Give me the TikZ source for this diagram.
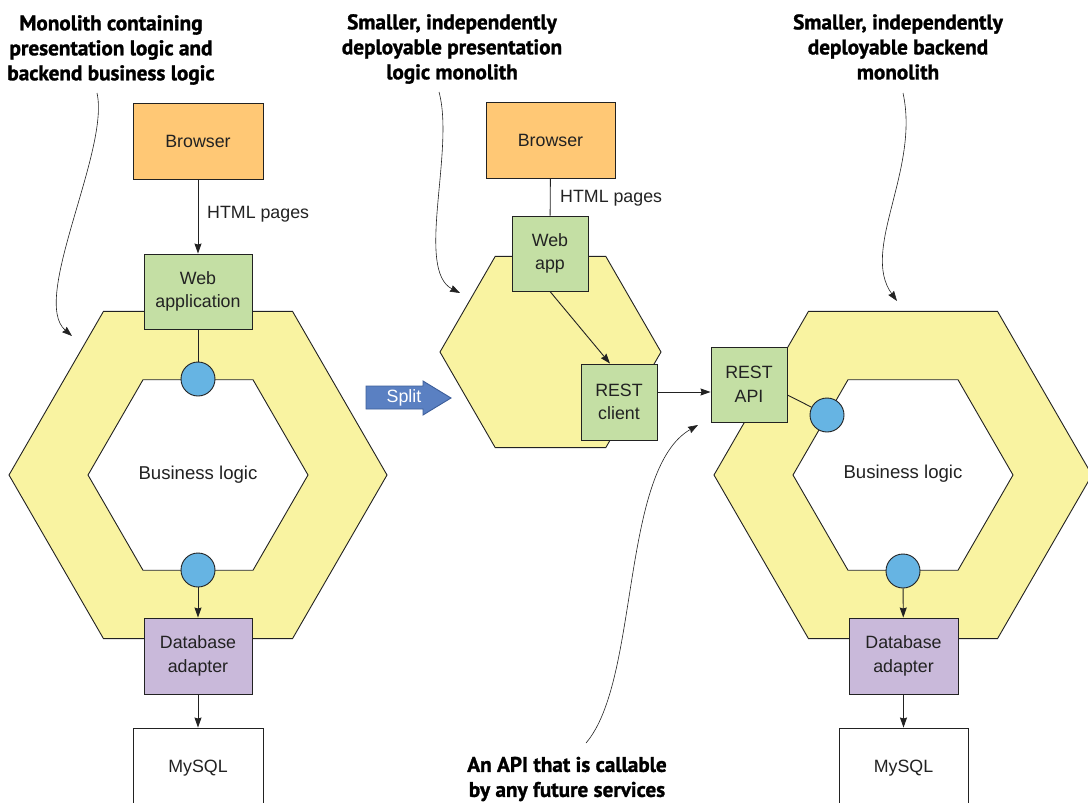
\documentclass[tikz,border=0pt]{standalone}
\usepackage{fontspec}
\setmainfont{Liberation Sans}
\newfontfamily\titlef{PT Sans}[BoldFeatures={FakeBold=1.3}]
\usetikzlibrary{arrows.meta}
\definecolor{orangeb}{HTML}{FFC875}
\definecolor{greenb}{HTML}{C4DFA4}
\definecolor{purpleb}{HTML}{C9B9DA}
\definecolor{hexyellow}{HTML}{F9F3A1}
\definecolor{portblue}{HTML}{66B4E3}
\definecolor{splitblue}{HTML}{5A80C2}
\definecolor{splitedge}{HTML}{3D5E9A}
\definecolor{ink}{HTML}{222222}
\newcommand\myhex[3]{({#1-#3},#2) -- ({#1-#3/2},{#2-0.866*#3}) -- ({#1+#3/2},{#2-0.866*#3}) -- ({#1+#3},#2) -- ({#1+#3/2},{#2+0.866*#3}) -- ({#1-#3/2},{#2+0.866*#3}) -- cycle}
\begin{document}
\begin{tikzpicture}[x=1pt,y=-1pt,
  box/.style={draw=ink, line width=0.9pt, inner sep=0pt, align=center, font=\fontsize{17.8}{23.5}\selectfont, text=ink},
  port/.style={circle, draw=ink, fill=portblue, minimum size=34pt, inner sep=0pt, line width=0.9pt},
  titlenote/.style={align=center, inner sep=0pt, text=black, font=\titlef\bfseries\fontsize{21.2}{25}\selectfont},
  lbl/.style={anchor=west, inner sep=0pt, text=ink, font=\fontsize{17.8}{20}\selectfont},
  plain/.style={align=center, inner sep=0pt, text=ink, font=\fontsize{18.6}{20}\selectfont},
  conn/.style={line width=0.9pt, draw=ink},
  arr/.style={conn, -{Stealth[length=10pt,width=7pt,inset=1pt]}},
  note/.style={line width=0.6pt, draw=ink, -{Stealth[length=10pt,width=7pt,inset=1pt]}},
  hexring/.style={fill=hexyellow, draw=ink, line width=0.9pt, even odd rule},
]
\useasboundingbox[fill=white] (0,0) rectangle (1088,803);

% ---------- left monolith ----------
\path[hexring] \myhex{198}{475}{189} \myhex{198}{475}{110};
\node[plain] (bl1) at (198,475) {Business logic};
\node[box, fill=orangeb, minimum width=130pt, minimum height=76pt] (br1) at (198,141) {Browser};
\node[box, fill=greenb, minimum width=108pt, minimum height=75pt] (wa1) at (198,291.5) {Web\\application};
\node[port] (p1) at (198,379) {};
\node[port] (p2) at (198,570) {};
\node[box, fill=purpleb, minimum width=108pt, minimum height=76pt] (db1) at (198,656) {Database\\adapter};
\node[box, fill=white, minimum width=130pt, minimum height=80pt] (my1) at (198,768) {\raisebox{4pt}{MySQL}};
\draw[arr] (br1) -- (wa1);
\node[lbl] (h1) at (207,214) {HTML pages};
\draw[conn] (wa1) -- (p1);
\draw[arr] (p2) -- (db1);
\draw[arr] (db1) -- (my1);

% ---------- split arrow ----------
\path[fill=splitblue, draw=splitedge, line width=0.9pt] (366,386) -- (423,386) -- (423,381) -- (451,398) -- (423,415) -- (423,409) -- (366,409) -- cycle;
\node[plain, text=white, font=\fontsize{17.8}{20}\selectfont] (split) at (404,398) {Split};

% ---------- middle (presentation) ----------
\path[fill=hexyellow, draw=ink, line width=0.9pt] \myhex{550.5}{352}{110.5};
\node[box, fill=orangeb, minimum width=129pt, minimum height=76pt] (br2) at (550.5,140) {Browser};
\node[box, fill=greenb, minimum width=76pt, minimum height=75pt] (wa2) at (550,253.5) {Web\\app};
\node[box, fill=greenb, minimum width=76pt, minimum height=76pt] (rc) at (619,402) {REST\\client};
\draw[conn] (br2) -- (wa2);
\node[lbl] (h2) at (560,198) {HTML pages};
\draw[arr] (wa2.south) -- ([xshift=-9pt]rc.north);

% ---------- right (backend) ----------
\path[hexring] \myhex{903}{475}{189} \myhex{903}{475}{110};
\node[plain] (bl2) at (903,474) {Business logic};
\node[box, fill=greenb, minimum width=76pt, minimum height=75pt] (api) at (749,384.5) {REST\\API};
\node[port] (p3) at (827,415) {};
\node[port] (p4) at (903,571) {};
\node[box, fill=purpleb, minimum width=109pt, minimum height=76pt] (db2) at (903.5,656) {Database\\adapter};
\node[box, fill=white, minimum width=129pt, minimum height=80pt] (my2) at (903.5,768) {\raisebox{4pt}{MySQL}};
\draw[arr] ([yshift=10pt]rc.east) -- ([yshift=10pt]rc.east -| api.west);
\draw[conn] ([yshift=-10.5pt]api.east) -- (p3);
\draw[arr] (p4) -- (db2);
\draw[arr] (db2) -- (my2);

% ---------- notes ----------
\node[titlenote] (t1) at (111,50) {Monolith containing\\presentation logic and\\backend business logic};
\node[titlenote] (t2) at (452,49) {Smaller, independently\\deployable presentation\\logic monolith};
\node[titlenote] (t3) at (898,47) {Smaller, independently\\deployable backend\\monolith};
\node[titlenote] (t4) at (567,779) {An API that is callable\\by any future services};

\coordinate (n1s) at (97,93);   \coordinate (n1e) at (72,336);
\coordinate (n2s) at (439,92);  \coordinate (n2e) at (460,293);
\coordinate (n3s) at (903,93);  \coordinate (n3e) at (897,301);
\coordinate (n4s) at (586,743); \coordinate (n4e) at (698,425);
\draw[note] (n1s) .. controls (110,150) and (30,300) .. (n1e);
\draw[note] (n2s) .. controls (455,150) and (415,270) .. (n2e);
\draw[note] (n3s) .. controls (920,170) and (860,250) .. (n3e);
\draw[note] (n4s) .. controls (640,680) and (620,470) .. (n4e);
\end{tikzpicture}
\end{document}
